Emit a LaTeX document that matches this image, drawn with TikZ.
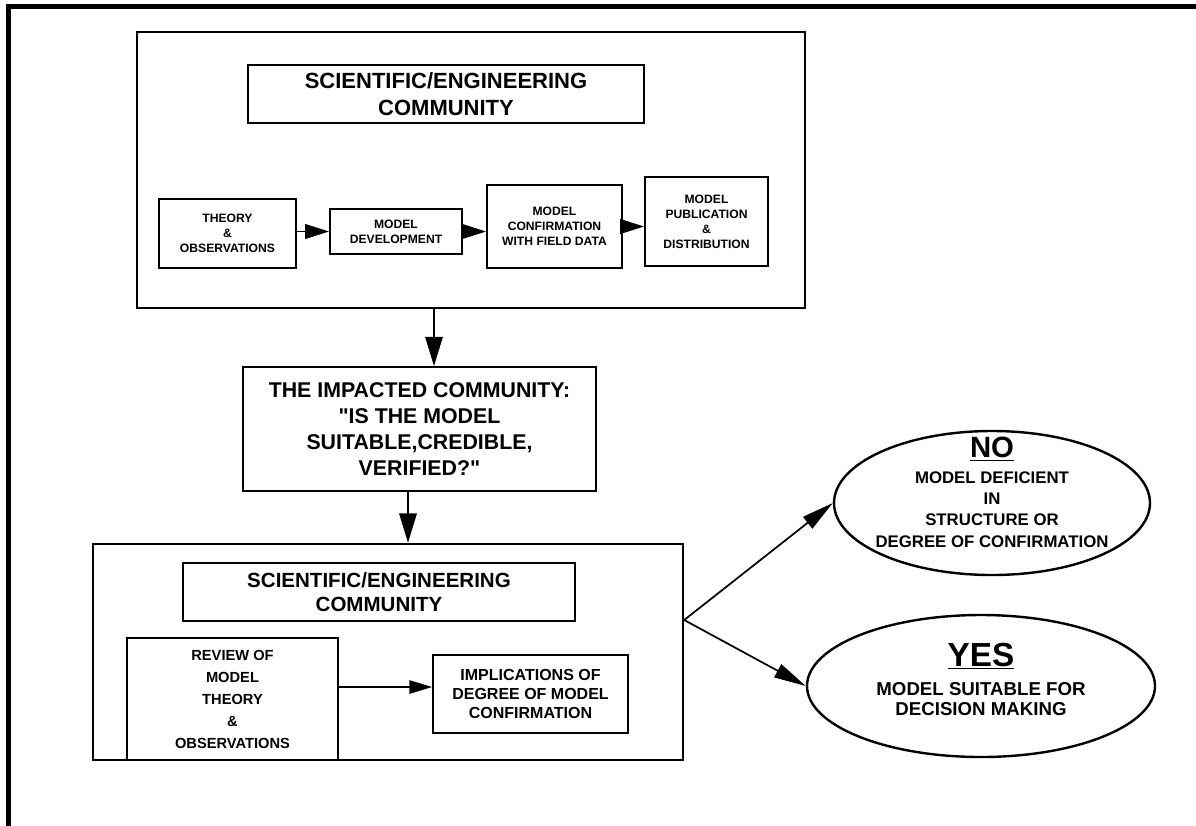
\documentclass[tikz,border=0pt]{standalone}
\usepackage{fontspec}
\setmainfont{Liberation Sans}[Ligatures=TeXOff]
\usetikzlibrary{arrows.meta,shapes.geometric,calc}
\begin{document}
\begin{tikzpicture}[x=0.75pt,y=-0.75pt,
  every node/.style={align=center, inner sep=0pt},
  f/.style 2 args={font=\bfseries\fontsize{#1}{#2}\selectfont},
  wh/.style 2 args={minimum width=#1*0.75pt, minimum height=#2*0.75pt},
  bigbox/.style={draw, line width=1.8pt},
  box/.style={draw, line width=1.3pt},
  oval/.style={draw, ellipse, line width=1.8pt},
  bigarr/.style={line width=1.6pt, -{Triangle[length=22pt,width=13pt]}},
  arr/.style={line width=1.4pt, -{Triangle[length=18pt,width=11pt]}},
  arrtwo/.style={line width=1.1pt, -{Triangle[length=17pt,width=10pt]}},
  arrthree/.style={line width=1.3pt, -{Triangle[length=24pt,width=11pt]}}
]
\useasboundingbox (0,0) rectangle (1196,825);
% outer frame
\draw[line width=3.75pt] (8.5,826) -- (8.5,6.5) -- (1197,6.5);

% top block
\node[bigbox, wh={668}{276}] (topbig) at (471,170) {};
\node[box, wh={396}{58}, f={16.5}{20}] (toptitle) at (446,94) {SCIENTIFIC/ENGINEERING\\COMMUNITY};
\node[box, wh={137}{69}, f={9.1}{11.3}] (theory) at (227.5,233.5) {THEORY\\\&\\OBSERVATIONS};
\node[box, wh={132}{45}, f={9.1}{11.3}] (dev) at (396,231.5) {MODEL\\DEVELOPMENT};
\node[box, wh={135}{83}, f={9.1}{11.3}] (conf) at (554.5,226.5) {MODEL\\CONFIRMATION\\WITH FIELD DATA};
\node[box, wh={123}{89}, f={9.1}{11.3}] (pub) at (706.5,221.5) {MODEL\\PUBLICATION\\\&\\DISTRIBUTION};

% impacted community
\node[box, wh={353}{124}, f={16}{19.3}] (imp) at (419.5,429) {THE IMPACTED COMMUNITY:\\"IS THE MODEL\\SUITABLE,CREDIBLE,\\VERIFIED?"};

% bottom block
\node[bigbox, wh={590}{216}] (bot) at (388,652) {};
\node[box, wh={392}{58}, f={15.4}{18}] (bottitle) at (379,592) {SCIENTIFIC/ENGINEERING\\COMMUNITY};
\node[box, wh={211}{122}, f={11}{16.5}] (rev) at (232.5,699) {REVIEW OF\\MODEL\\THEORY\\\&\\OBSERVATIONS};
\node[box, wh={195}{78}, f={12}{14.5}] (impl) at (530.5,694) {IMPLICATIONS OF\\DEGREE OF MODEL\\CONFIRMATION};

% outcomes
\node[oval, wh={316}{144}, label={[f={12.6}{16}, yshift=8pt]center:{{\fontsize{22}{24}\selectfont\underline{NO}}\\[3pt]MODEL DEFICIENT\\IN\\STRUCTURE OR\\DEGREE OF CONFIRMATION}}] (no) at (992,503) {};
\node[oval, wh={348}{142}, label={[f={14}{15}, yshift=5pt]center:{{\fontsize{25}{28}\selectfont\underline{YES}}\\[7pt]MODEL SUITABLE FOR\\DECISION MAKING}}] (yes) at (981,686) {};

% connectors
\draw[arr] (theory.east |- dev) -- (dev.west);
\draw[arr] (dev.east) -- (dev.east -| conf.west);
\draw[arr] (conf.east) -- (conf.east -| pub.west);
\coordinate (a1) at ($(imp.north)+(14.5,0)$);
\draw[bigarr] (topbig.south -| a1) -- (a1);
\coordinate (a2) at ($(imp.south)+(-11.5,0)$);
\draw[bigarr] (a2) -- (bot.north -| a2);
\coordinate (a3) at ($(rev.east)+(0,-12)$);
\draw[arrtwo] (a3) -- (a3 -| impl.west);
\coordinate (split) at ($(bot.east)+(0,-32)$);
\draw[arrthree] (split) -- (no.west);
\draw[arrthree] (split) -- (yes.west);
\end{tikzpicture}
\end{document}
